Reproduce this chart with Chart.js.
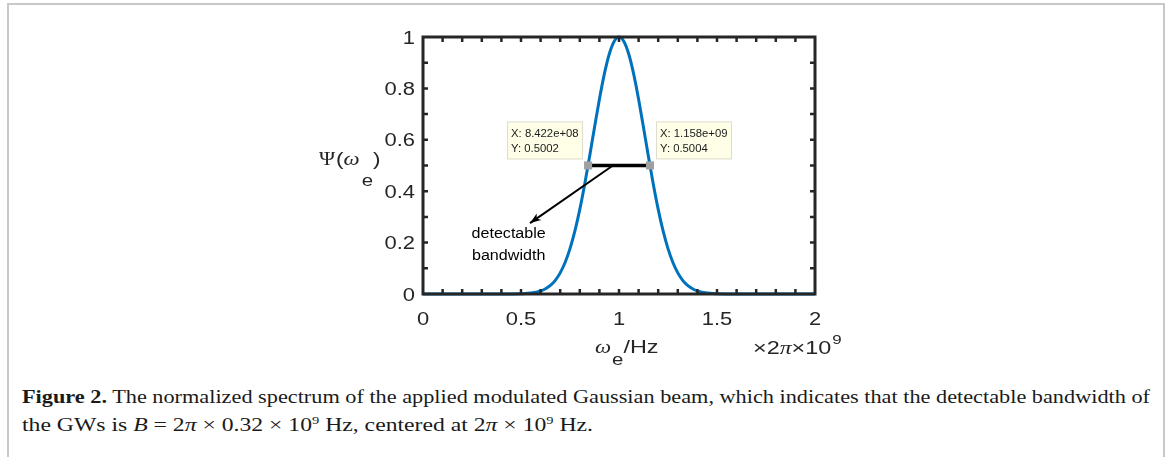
<!DOCTYPE html>
<html>
<head>
<meta charset="utf-8">
<script src="https://cdn.jsdelivr.net/npm/chart.js@4.4.1/dist/chart.umd.min.js"></script>
<style>
  body { margin: 0; background: #fff; }
  #page { position: relative; width: 1167px; height: 457px; overflow: hidden; }
  #frame { position: absolute; left: 7px; top: 3px; width: 1154px; height: 470px;
           border-left: 2px solid #c8c8c8; border-top: 2px solid #c8c8c8; border-right: 2px solid #c8c8c8; }
  #chart { position: absolute; left: 0; top: 0; }
  #caption { position: absolute; left: 22px; top: 386px;
             font-family: "Liberation Serif", serif; font-size: 18px; line-height: 23px; color: #1a1a1a; }
  #caption span { display: block; white-space: nowrap; transform-origin: 0 0; width: max-content; }
  #caption sup { font-size: 11px; }
</style>
</head>
<body>
<div id="page">
  <div id="frame"></div>
  <canvas id="chart" width="1167" height="370"></canvas>
  <div id="caption">
    <span id="cap1" data-w="1128"><b>Figure 2.</b> The normalized spectrum of the applied modulated Gaussian beam, which indicates that the detectable bandwidth of</span>
    <span id="cap2" data-w="571">the GWs is <i>B</i> = 2<i>π</i> × 0.32 × 10<sup>9</sup> Hz, centered at 2<i>π</i> × 10<sup>9</sup> Hz.</span>
  </div>
</div>
<script>
// spectrum (x in units of 2pi x 10^9 Hz)
let omegaValues = [0, 0.2, 0.4, 0.45, 0.5, 0.55, 0.6, 0.625, 0.65, 0.675, 0.7, 0.725, 0.75, 0.775, 0.8, 0.825, 0.85, 0.875, 0.9, 0.925, 0.95, 0.975, 1,
    1.025, 1.05, 1.075, 1.1, 1.125, 1.15, 1.175, 1.2, 1.225, 1.25, 1.275, 1.3, 1.325, 1.35, 1.375, 1.4, 1.45, 1.5, 1.55, 1.6, 1.8, 2];
let psiValues = [0, 0, 0.00005, 0.0002, 0.001, 0.0036, 0.0118, 0.0202, 0.0333, 0.0533, 0.0822, 0.1225, 0.1764, 0.2453, 0.3294, 0.4273, 0.5354, 0.6481, 0.7576, 0.8554, 0.933, 0.9828, 1,
    0.9828, 0.933, 0.8554, 0.7576, 0.6481, 0.5354, 0.4273, 0.3294, 0.2453, 0.1764, 0.1225, 0.0822, 0.0533, 0.0333, 0.0202, 0.0118, 0.0036, 0.001, 0.0002, 0.00005, 0, 0];

// data tips
let tipX = [0.8422, 1.158];
let tipY = [0.5002, 0.5004];
let tipLabels = [['X: 8.422e+08', 'Y: 0.5002'], ['X: 1.158e+09', 'Y: 0.5004']];

// arrow from the bandwidth bar to the note
let arrowX = [0.969, 0.546];
let arrowY = [0.5, 0.276];
let noteLines = ['detectable', 'bandwidth'];
let noteX = 0.437;
let noteY = 0.218;

let xTicks = [0, 0.5, 1, 1.5, 2];
let yTicks = [0, 0.2, 0.4, 0.6, 0.8, 1];

let axisColor = '#262626';
let sansFont = '"Liberation Sans", Arial, sans-serif';
let serifFont = '"Liberation Serif", serif';

function toPoints(xs, ys) {
    let pts = [];
    for (let i = 0; i < xs.length; i++) {
        pts.push({ x: xs[i], y: ys[i] });
    }
    return pts;
}

// text is a bit wide in the figure, so stretch it horizontally
function drawWide(ctx, text, x, y, sx, align) {
    ctx.save();
    ctx.translate(x, y);
    ctx.scale(sx, 1);
    ctx.textAlign = align;
    ctx.fillText(text, 0, 0);
    ctx.restore();
}

function drawRun(ctx, pieces, x, y) {
    for (let p of pieces) {
        ctx.font = p.font;
        drawWide(ctx, p.t, x, y + (p.dy || 0), p.sx, 'left');
        x += ctx.measureText(p.t).width * p.sx + (p.gap || 0);
    }
}

let matlabBox = {
    id: 'matlabBox',
    afterDatasetsDraw(chart) {
        let ctx = chart.ctx;
        let a = chart.chartArea;
        let xs = chart.scales.x;
        let ys = chart.scales.y;
        ctx.save();
        ctx.strokeStyle = axisColor;
        // inward ticks every 0.1
        ctx.lineWidth = 2.5;
        ctx.beginPath();
        for (let i = 1; i < 20; i++) {
            let px = xs.getPixelForValue(i / 10);
            ctx.moveTo(px, a.bottom); ctx.lineTo(px, a.bottom - 5);
            ctx.moveTo(px, a.top); ctx.lineTo(px, a.top + 5);
        }
        for (let i = 1; i < 10; i++) {
            let py = ys.getPixelForValue(i / 10);
            ctx.moveTo(a.left, py); ctx.lineTo(a.left + 5, py);
            ctx.moveTo(a.right, py); ctx.lineTo(a.right - 5, py);
        }
        ctx.stroke();
        ctx.lineWidth = 3;
        ctx.strokeRect(a.left, a.top, a.right - a.left, a.bottom - a.top);

        // tick labels
        ctx.fillStyle = axisColor;
        ctx.font = '18px ' + sansFont;
        ctx.textBaseline = 'alphabetic';
        for (let t of xs.ticks) {
            drawWide(ctx, String(t.value), xs.getPixelForValue(t.value), 325, 1.22, 'center');
        }
        for (let t of ys.ticks) {
            drawWide(ctx, String(+t.value.toFixed(1)), a.left - 8, ys.getPixelForValue(t.value) + 6.5, 1.22, 'right');
        }

        // arrow head
        let x0 = xs.getPixelForValue(arrowX[0]), y0 = ys.getPixelForValue(arrowY[0]);
        let x1 = xs.getPixelForValue(arrowX[1]), y1 = ys.getPixelForValue(arrowY[1]);
        let ang = Math.atan2(y1 - y0, x1 - x0);
        ctx.fillStyle = '#000';
        ctx.beginPath();
        ctx.moveTo(x1, y1);
        ctx.lineTo(x1 - 11 * Math.cos(ang) + 4 * Math.sin(ang), y1 - 11 * Math.sin(ang) - 4 * Math.cos(ang));
        ctx.lineTo(x1 - 8 * Math.cos(ang), y1 - 8 * Math.sin(ang));
        ctx.lineTo(x1 - 11 * Math.cos(ang) - 4 * Math.sin(ang), y1 - 11 * Math.sin(ang) + 4 * Math.cos(ang));
        ctx.closePath();
        ctx.fill();

        // note text
        ctx.font = '14px ' + sansFont;
        let nx = xs.getPixelForValue(noteX), ny = ys.getPixelForValue(noteY);
        drawWide(ctx, noteLines[0], nx, ny, 1.15, 'center');
        drawWide(ctx, noteLines[1], nx, ny + 22, 1.15, 'center');

        // data tip boxes
        ctx.font = '11.3px ' + sansFont;
        for (let i = 0; i < tipX.length; i++) {
            let mx = xs.getPixelForValue(tipX[i]);
            let my = ys.getPixelForValue(tipY[i]);
            let bw = 76, bh = 38;
            let bx = i == 0 ? mx - 5 - bw : mx + 6;
            let by = my - 6 - bh;
            ctx.fillStyle = '#ffffe8';
            ctx.fillRect(bx, by, bw, bh);
            ctx.strokeStyle = '#dcdcd0';
            ctx.lineWidth = 1;
            ctx.strokeRect(bx + 0.5, by + 0.5, bw - 1, bh - 1);
            ctx.fillStyle = '#1a1a1a';
            drawWide(ctx, tipLabels[i][0], bx + 4, by + 16, 1, 'left');
            drawWide(ctx, tipLabels[i][1], bx + 4, by + 31, 1, 'left');
        }

        // axis titles
        ctx.fillStyle = axisColor;
        drawRun(ctx, [
            { t: '\u03A8', font: '19px ' + serifFont, sx: 1.15, gap: 1 },
            { t: '(', font: '18px ' + sansFont, sx: 1.25 },
            { t: '\u03C9', font: 'italic 19px ' + serifFont, sx: 1.2, gap: 2 },
            { t: 'e', font: '17px ' + sansFont, sx: 1.2, dy: 21 },
            { t: ')', font: '18px ' + sansFont, sx: 1.25 }
        ], 319, 165);
        drawRun(ctx, [
            { t: '\u03C9', font: 'italic 19px ' + serifFont, sx: 1.2, gap: 1 },
            { t: 'e', font: '17px ' + sansFont, sx: 1.2, dy: 12 },
            { t: '/Hz', font: '18px ' + sansFont, sx: 1.3 }
        ], 595, 353);
        drawRun(ctx, [
            { t: '\u00D7', font: '18px ' + sansFont, sx: 1.3 },
            { t: '2', font: '18px ' + sansFont, sx: 1.3 },
            { t: '\u03C0', font: 'italic 19px ' + serifFont, sx: 1.25 },
            { t: '\u00D7', font: '18px ' + sansFont, sx: 1.3 },
            { t: '10', font: '18px ' + sansFont, sx: 1.3, gap: 1 },
            { t: '9', font: '13px ' + sansFont, sx: 1.3, dy: -10 }
        ], 753, 354);
        ctx.restore();
    }
};

new Chart(document.getElementById('chart'), {
    type: 'line',
    data: {
        datasets: [
            {
                data: toPoints(omegaValues, psiValues),
                borderColor: '#0072BD',
                borderWidth: 3,
                pointRadius: 0,
                cubicInterpolationMode: 'monotone',
                clip: 4,
                order: 3
            },
            {
                data: toPoints(arrowX, arrowY),
                borderColor: '#000',
                borderWidth: 2,
                pointRadius: 0,
                order: 2
            },
            {
                data: toPoints(tipX, tipY),
                borderColor: '#000',
                borderWidth: 3.5,
                pointStyle: 'rect',
                pointRadius: 5.7,
                pointBackgroundColor: '#a0a0a0',
                pointBorderColor: '#a0a0a0',
                pointBorderWidth: 0,
                order: 1
            }
        ]
    },
    options: {
        responsive: false,
        animation: false,
        layout: { padding: { top: 37, right: 352, left: 0, bottom: 0 } },
        plugins: { legend: { display: false }, tooltip: { enabled: false } },
        scales: {
            x: {
                type: 'linear', min: 0, max: 2,
                afterBuildTicks: s => { s.ticks = xTicks.map(v => ({ value: v })); },
                afterFit: s => { s.height = 76; },
                grid: { display: false },
                border: { display: false },
                ticks: { display: false }
            },
            y: {
                type: 'linear', min: 0, max: 1,
                afterBuildTicks: s => { s.ticks = yTicks.map(v => ({ value: v })); },
                afterFit: s => { s.width = 423; },
                grid: { display: false },
                border: { display: false },
                ticks: { display: false }
            }
        }
    },
    plugins: [matlabBox]
});

// fit caption lines to the widths they have in the figure
for (let id of ['cap1', 'cap2']) {
    let el = document.getElementById(id);
    let w = el.getBoundingClientRect().width;
    el.style.transform = 'scaleX(' + (el.dataset.w / w) + ')';
}
</script>
</body>
</html>
